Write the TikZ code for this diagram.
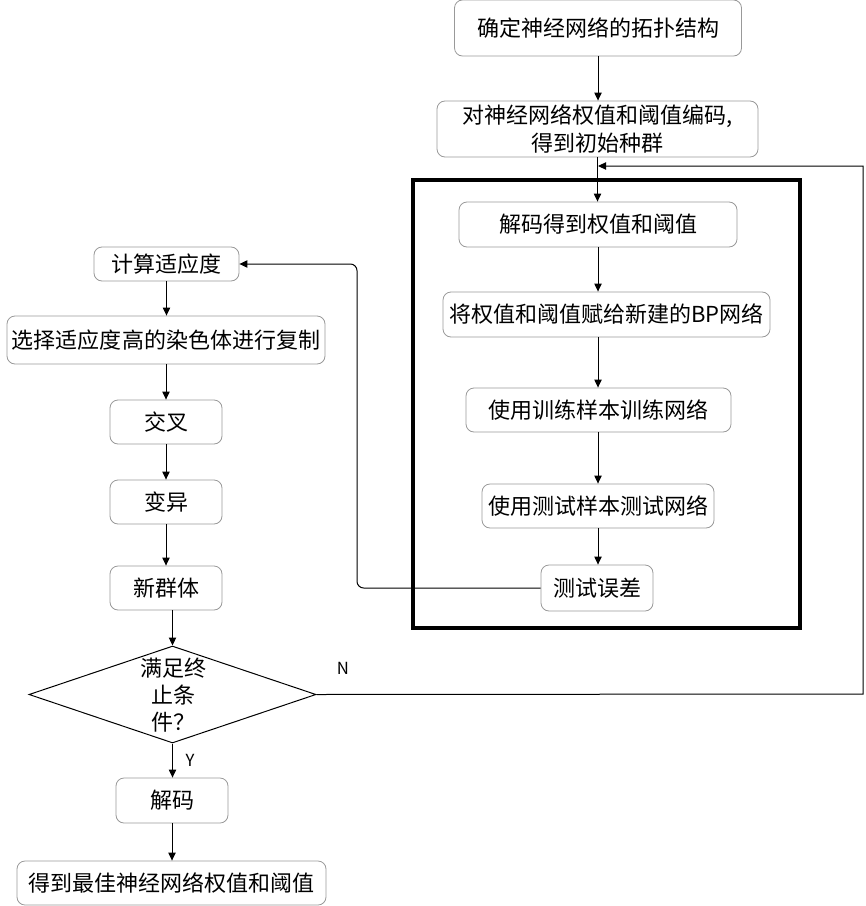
\documentclass[tikz,border=0pt]{standalone}
\usepackage{fontspec}
\setmainfont{Noto Sans CJK SC}
\usetikzlibrary{arrows.meta,shapes.geometric}
\begin{document}
\begin{tikzpicture}[x=0.75pt,y=-0.75pt,
  box/.style={draw=black!40, line width=0.6pt, rounded corners=6pt, fill=white,
    font=\fontsize{16.5}{21}\selectfont, align=center, inner sep=0pt},
  dec/.style={draw=black, line width=0.75pt, diamond, aspect=2.96, inner sep=0pt,
    font=\fontsize{16.5}{20}\selectfont, align=center},
  arr/.style={draw=black, line width=0.75pt, -{Triangle[length=6pt,width=5.5pt]}},
  lbl/.style={font=\fontsize{12.5}{14}\selectfont, inner sep=0pt}]
\useasboundingbox (0,0) rectangle (865,906);
% thick frame
\draw[line width=3pt] (413,180) rectangle (800,628);
% right column
\node[box, minimum width=215.25pt, minimum height=42pt] (b1) at (598,28) {确定神经网络的拓扑结构};
\node[box, minimum width=240.75pt, minimum height=42pt] (b2) at (597.5,129) {对神经网络权值和阈值编码,\\得到初始种群};
\node[box, minimum width=208.5pt, minimum height=33.75pt] (b3) at (598,224.5) {解码得到权值和阈值};
\node[box, minimum width=245.25pt, minimum height=33.75pt] (b4) at (606.5,314.5) {将权值和阈值赋给新建的BP网络};
\node[box, minimum width=198.75pt, minimum height=33pt] (b5) at (598.5,410) {使用训练样本训练网络};
\node[box, minimum width=174pt, minimum height=33pt] (b6) at (598,506) {使用测试样本测试网络};
\node[box, minimum width=84pt, minimum height=34.5pt] (b7) at (597,588) {测试误差};
% left column
\node[box, minimum width=108.75pt, minimum height=25.5pt] (l1) at (166.5,264) {计算适应度};
\node[box, minimum width=238.5pt, minimum height=36pt] (l2) at (166,340) {选择适应度高的染色体进行复制};
\node[box, minimum width=84pt, minimum height=33pt] (l3) at (166,422) {交叉};
\node[box, minimum width=84pt, minimum height=33pt] (l4) at (166,502) {变异};
\node[box, minimum width=84pt, minimum height=33pt] (l5) at (166,588) {新群体};
\node[dec, minimum width=215.25pt, minimum height=72.75pt] (dia) at (172.5,694.5) {};
\node[font=\fontsize{16.5}{20.5}\selectfont, align=center, inner sep=0pt] (diat) at (173,695) {满足终\\止条\\件？};
\node[box, minimum width=84pt, minimum height=33.75pt] (l6) at (172,800.5) {解码};
\node[box, minimum width=231.75pt, minimum height=33pt] (l7) at (171.5,883) {得到最佳神经网络权值和阈值};
\node[lbl] (n) at (343,668) {N};
\node[lbl] (y) at (190,760) {Y};
% coordinates
\coordinate (c1) at (863,694);
\coordinate (c2) at (863,166);
\coordinate (fbtip) at (598,166);
\coordinate (d1) at (357,588);
\coordinate (d2) at (357,264);
% connectors
\draw[arr] (b1.south) -- (b1.south |- b2.north);
\draw[arr] (b2.south) -- (b2.south |- b3.north);
\draw[arr] (b3.south) -- (b3.south |- b4.north);
\draw[arr] (b4.south -| b3.south) -- (b3.south |- b5.north);
\draw[arr] (b5.south -| b3.south) -- (b3.south |- b6.north);
\draw[arr] (b6.south -| b3.south) -- (b3.south |- b7.north);
\draw[arr, rounded corners=5pt] (b7.west) -- (d1) -- (d2) -- (l1.east);
\draw[arr] (l1.south) -- (l1.south |- l2.north);
\draw[arr] (l2.south) -- (l2.south |- l3.north);
\draw[arr] (l3.south) -- (l3.south |- l4.north);
\draw[arr] (l4.south) -- (l4.south |- l5.north);
\draw[arr] (l5.south -| dia.north) -- (dia.north);
\draw[arr] (dia.south) -- (dia.south |- l6.north);
\draw[arr] (l6.south) -- (l6.south |- l7.north);
\draw[arr] (dia.east) -- (c1) -- (c2) -- (fbtip);
\end{tikzpicture}
\end{document}
